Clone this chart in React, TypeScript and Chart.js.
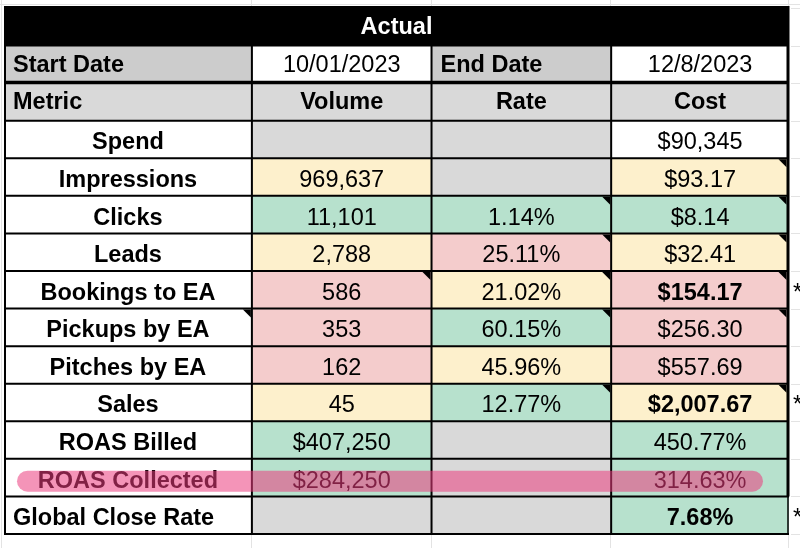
import React, { useEffect, useRef } from 'react';
import { Chart, registerables } from 'chart.js';

Chart.register(...registerables);

// ---------- data ----------
const titleText = 'Actual';
const startLabel = 'Start Date';
const startDate = '10/01/2023';
const endLabel = 'End Date';
const endDate = '12/8/2023';
const columnHeaders = ['Metric', 'Volume', 'Rate', 'Cost'];

const metrics = [
  'Spend',
  'Impressions',
  'Clicks',
  'Leads',
  'Bookings to EA',
  'Pickups by EA',
  'Pitches by EA',
  'Sales',
  'ROAS Billed',
  'ROAS Collected',
  'Global Close Rate',
];
const volumeValues = ['', '969,637', '11,101', '2,788', '586', '353', '162', '45', '$407,250', '$284,250', ''];
const rateValues = ['', '', '1.14%', '25.11%', '21.02%', '60.15%', '45.96%', '12.77%', '', '', ''];
const costValues = ['$90,345', '$93.17', '$8.14', '$32.41', '$154.17', '$256.30', '$557.69', '$2,007.67', '450.77%', '314.63%', '7.68%'];

// status: na = grey (not applicable), plain = white, good = green, mid = yellow, bad = red
const volumeStatus = ['na', 'mid', 'good', 'mid', 'bad', 'bad', 'bad', 'mid', 'good', 'good', 'na'];
const rateStatus = ['na', 'na', 'good', 'bad', 'mid', 'good', 'mid', 'good', 'na', 'na', 'na'];
const costStatus = ['plain', 'mid', 'good', 'mid', 'bad', 'bad', 'bad', 'mid', 'good', 'good', 'good'];
const boldCostRows = ['Bookings to EA', 'Sales', 'Global Close Rate'];
const leftAlignedMetrics = ['Global Close Rate'];

// cells carrying a comment marker: [metric, column index]
const commentCells: [string, number][] = [
  ['Impressions', 3],
  ['Clicks', 2], ['Clicks', 3],
  ['Leads', 2], ['Leads', 3],
  ['Bookings to EA', 1], ['Bookings to EA', 2], ['Bookings to EA', 3],
  ['Pickups by EA', 0], ['Pickups by EA', 2], ['Pickups by EA', 3],
  ['Sales', 2], ['Sales', 3],
];
const footnoteRows = ['Bookings to EA', 'Sales', 'Global Close Rate'];
const highlightedRow = 'ROAS Collected';

// ---------- layout / style ----------
const COL_EDGES = [0, 1.38, 2.38, 3.38, 4.37];
const STATUS_COLOR: Record<string, string> = {
  na: '#d9d9d9',
  plain: '#ffffff',
  good: '#b7e1cd',
  mid: '#fdf0cc',
  bad: '#f4cccc',
};
const FONT = '"Liberation Sans", Arial, Helvetica, sans-serif';
const FONT_SIZE = 23.5;

const rowKeys = ['Actual', 'Start Date', 'Metric', ...metrics];

function cellColor(r: number, c: number): string {
  if (r === 0) return '#000000';
  if (r === 1) return c === 0 || c === 2 ? '#cccccc' : '#ffffff';
  if (r === 2) return '#d9d9d9';
  const m = r - 3;
  if (c === 0) return '#ffffff';
  if (c === 1) return STATUS_COLOR[volumeStatus[m]];
  if (c === 2) return STATUS_COLOR[rateStatus[m]];
  return STATUS_COLOR[costStatus[m]];
}

const tablePlugin = {
  id: 'tableText',
  beforeDatasetsDraw(chart: any) {
    const { ctx, scales } = chart;
    const xs = scales.x;
    const ys = scales.y;
    const band = ys.getPixelForValue(1) - ys.getPixelForValue(0);
    const top = ys.getPixelForValue(0) - band / 2;
    const bottom = ys.getPixelForValue(rowKeys.length - 1) + band / 2;
    const left = xs.getPixelForValue(COL_EDGES[0]);
    const right = xs.getPixelForValue(COL_EDGES[4]);
    ctx.save();
    ctx.strokeStyle = '#e3e3e3';
    ctx.lineWidth = 1;
    // faint spreadsheet gridlines outside the table
    ctx.beginPath();
    ctx.moveTo(0, top - 3.5);
    ctx.lineTo(chart.width, top - 3.5);
    for (let c = 1; c < COL_EDGES.length; c++) {
      const px = Math.round(xs.getPixelForValue(COL_EDGES[c])) - 0.5;
      ctx.moveTo(px, 0);
      ctx.lineTo(px, top);
      ctx.moveTo(px, bottom);
      ctx.lineTo(px, chart.height);
    }
    for (let r = 0; r <= rowKeys.length; r++) {
      const py = Math.round(top + r * band) + 0.5;
      ctx.moveTo(right + 2, py);
      ctx.lineTo(chart.width, py);
    }
    ctx.moveTo(1.5, 0);
    ctx.lineTo(1.5, chart.height);
    ctx.stroke();
    // black title band reaches slightly above the first row
    ctx.fillStyle = '#000';
    ctx.fillRect(left, top - 2, right - left, 3);
    ctx.restore();
  },
  afterDatasetsDraw(chart: any) {
    const { ctx, scales } = chart;
    const xs = scales.x;
    const ys = scales.y;
    const band = ys.getPixelForValue(1) - ys.getPixelForValue(0);
    const rowTop = (r: number) => ys.getPixelForValue(r) - band / 2;
    const rowMid = (r: number) => ys.getPixelForValue(r);
    const colPx = (c: number) => xs.getPixelForValue(COL_EDGES[c]);
    const left = colPx(0);
    const right = colPx(4);
    const bottom = rowTop(rowKeys.length);

    ctx.save();
    // borders
    ctx.strokeStyle = '#000';
    ctx.lineWidth = 2;
    ctx.beginPath();
    for (let r = 1; r <= rowKeys.length; r++) {
      const py = rowTop(r);
      ctx.moveTo(left, py);
      ctx.lineTo(right, py);
    }
    for (let c = 1; c < 4; c++) {
      const px = colPx(c);
      ctx.moveTo(px, rowTop(1));
      ctx.lineTo(px, bottom);
    }
    ctx.moveTo(left + 1, rowTop(0) - 2);
    ctx.lineTo(left + 1, bottom);
    ctx.stroke();
    ctx.lineWidth = 3;
    ctx.beginPath();
    ctx.moveTo(left, rowTop(2) - 1);
    ctx.lineTo(right, rowTop(2) - 1);
    ctx.stroke();
    ctx.beginPath();
    ctx.moveTo(right - 1, rowTop(0) - 2);
    ctx.lineTo(right - 1, rowTop(rowKeys.length - 1));
    ctx.stroke();
    ctx.lineWidth = 1.5;
    ctx.beginPath();
    ctx.moveTo(right - 1, rowTop(rowKeys.length - 1));
    ctx.lineTo(right - 1, bottom);
    ctx.stroke();

    // comment markers
    ctx.fillStyle = '#000';
    commentCells.forEach(([m, c]) => {
      const r = rowKeys.indexOf(m);
      const rx = colPx(c + 1) - (c === 3 ? 2.5 : 1);
      const ty = rowTop(r) + 1;
      ctx.beginPath();
      ctx.moveTo(rx - 8, ty);
      ctx.lineTo(rx, ty);
      ctx.lineTo(rx, ty + 8);
      ctx.closePath();
      ctx.fill();
    });

    // text
    const put = (txt: string, r: number, c: number, bold: boolean, align: 'center' | 'left', color = '#000') => {
      if (!txt) return;
      const dy = r < 3 ? 1 : 3.5;
      ctx.font = `${bold ? 'bold ' : ''}${FONT_SIZE}px ${FONT}`;
      ctx.fillStyle = color;
      ctx.textBaseline = 'middle';
      ctx.textAlign = align;
      const x = align === 'center' ? (colPx(c) + colPx(c + 1)) / 2 : colPx(c) + 9;
      ctx.fillText(txt, x, rowMid(r) + dy);
    };
    ctx.font = `bold ${FONT_SIZE}px ${FONT}`;
    ctx.fillStyle = '#fff';
    ctx.textAlign = 'center';
    ctx.textBaseline = 'middle';
    ctx.fillText(titleText, (left + right) / 2, rowMid(0) + 1);

    put(startLabel, 1, 0, true, 'left');
    put(startDate, 1, 1, false, 'center');
    put(endLabel, 1, 2, true, 'left');
    put(endDate, 1, 3, false, 'center');
    put(columnHeaders[0], 2, 0, true, 'left');
    for (let c = 1; c < 4; c++) put(columnHeaders[c], 2, c, true, 'center');

    metrics.forEach((m, i) => {
      const r = i + 3;
      put(m, r, 0, true, leftAlignedMetrics.includes(m) ? 'left' : 'center');
      put(volumeValues[i], r, 1, false, 'center');
      put(rateValues[i], r, 2, false, 'center');
      put(costValues[i], r, 3, boldCostRows.includes(m), 'center');
    });

    // footnote asterisks beyond the table
    ctx.font = `${FONT_SIZE}px ${FONT}`;
    ctx.fillStyle = '#000';
    ctx.textAlign = 'left';
    footnoteRows.forEach((m) => {
      const r = rowKeys.indexOf(m);
      ctx.fillText('*', right + 4, rowMid(r) + 3.5);
    });

    // highlighter stroke
    const hr = rowKeys.indexOf(highlightedRow);
    const hy = rowMid(hr) - 7;
    const hx0 = left + 13;
    const hx1 = right - 26;
    ctx.fillStyle = 'rgba(235, 60, 125, 0.55)';
    ctx.beginPath();
    (ctx as any).roundRect(hx0, hy, hx1 - hx0, 21, 10.5);
    ctx.fill();
    ctx.restore();
  },
};

export default function App() {
  const ref = useRef<HTMLCanvasElement | null>(null);

  useEffect(() => {
    document.body.style.margin = '0';
    const canvas = ref.current;
    if (!canvas) return;
    const datasets = [0, 1, 2, 3].map((c) => ({
      label: columnHeaders[c],
      data: rowKeys.map((_, r) => {
        if (r === 0) return c === 0 ? [COL_EDGES[0], COL_EDGES[4]] : null;
        return [COL_EDGES[c], COL_EDGES[c + 1]];
      }),
      backgroundColor: rowKeys.map((_, r) => cellColor(r, c)),
      borderWidth: 0,
      grouped: false,
      barPercentage: 1,
      categoryPercentage: 1,
    }));
    const chart = new Chart(canvas, {
      type: 'bar',
      data: { labels: rowKeys, datasets: datasets as any },
      options: {
        animation: false,
        responsive: false,
        indexAxis: 'y',
        layout: { padding: { left: 4, right: 11, top: 8, bottom: 14 } },
        scales: {
          x: { type: 'linear', min: COL_EDGES[0], max: COL_EDGES[4], display: false },
          y: { type: 'category', display: false },
        },
        plugins: {
          legend: { display: false },
          tooltip: { enabled: false },
          title: { display: false },
        },
      },
      plugins: [tablePlugin],
    });
    return () => chart.destroy();
  }, []);

  return (
    <div style={{ position: 'fixed', left: 0, top: 0, width: 800, height: 548, background: '#fff' }}>
      <canvas ref={ref} width={800} height={548} style={{ display: 'block', width: 800, height: 548 }} />
    </div>
  );
}
